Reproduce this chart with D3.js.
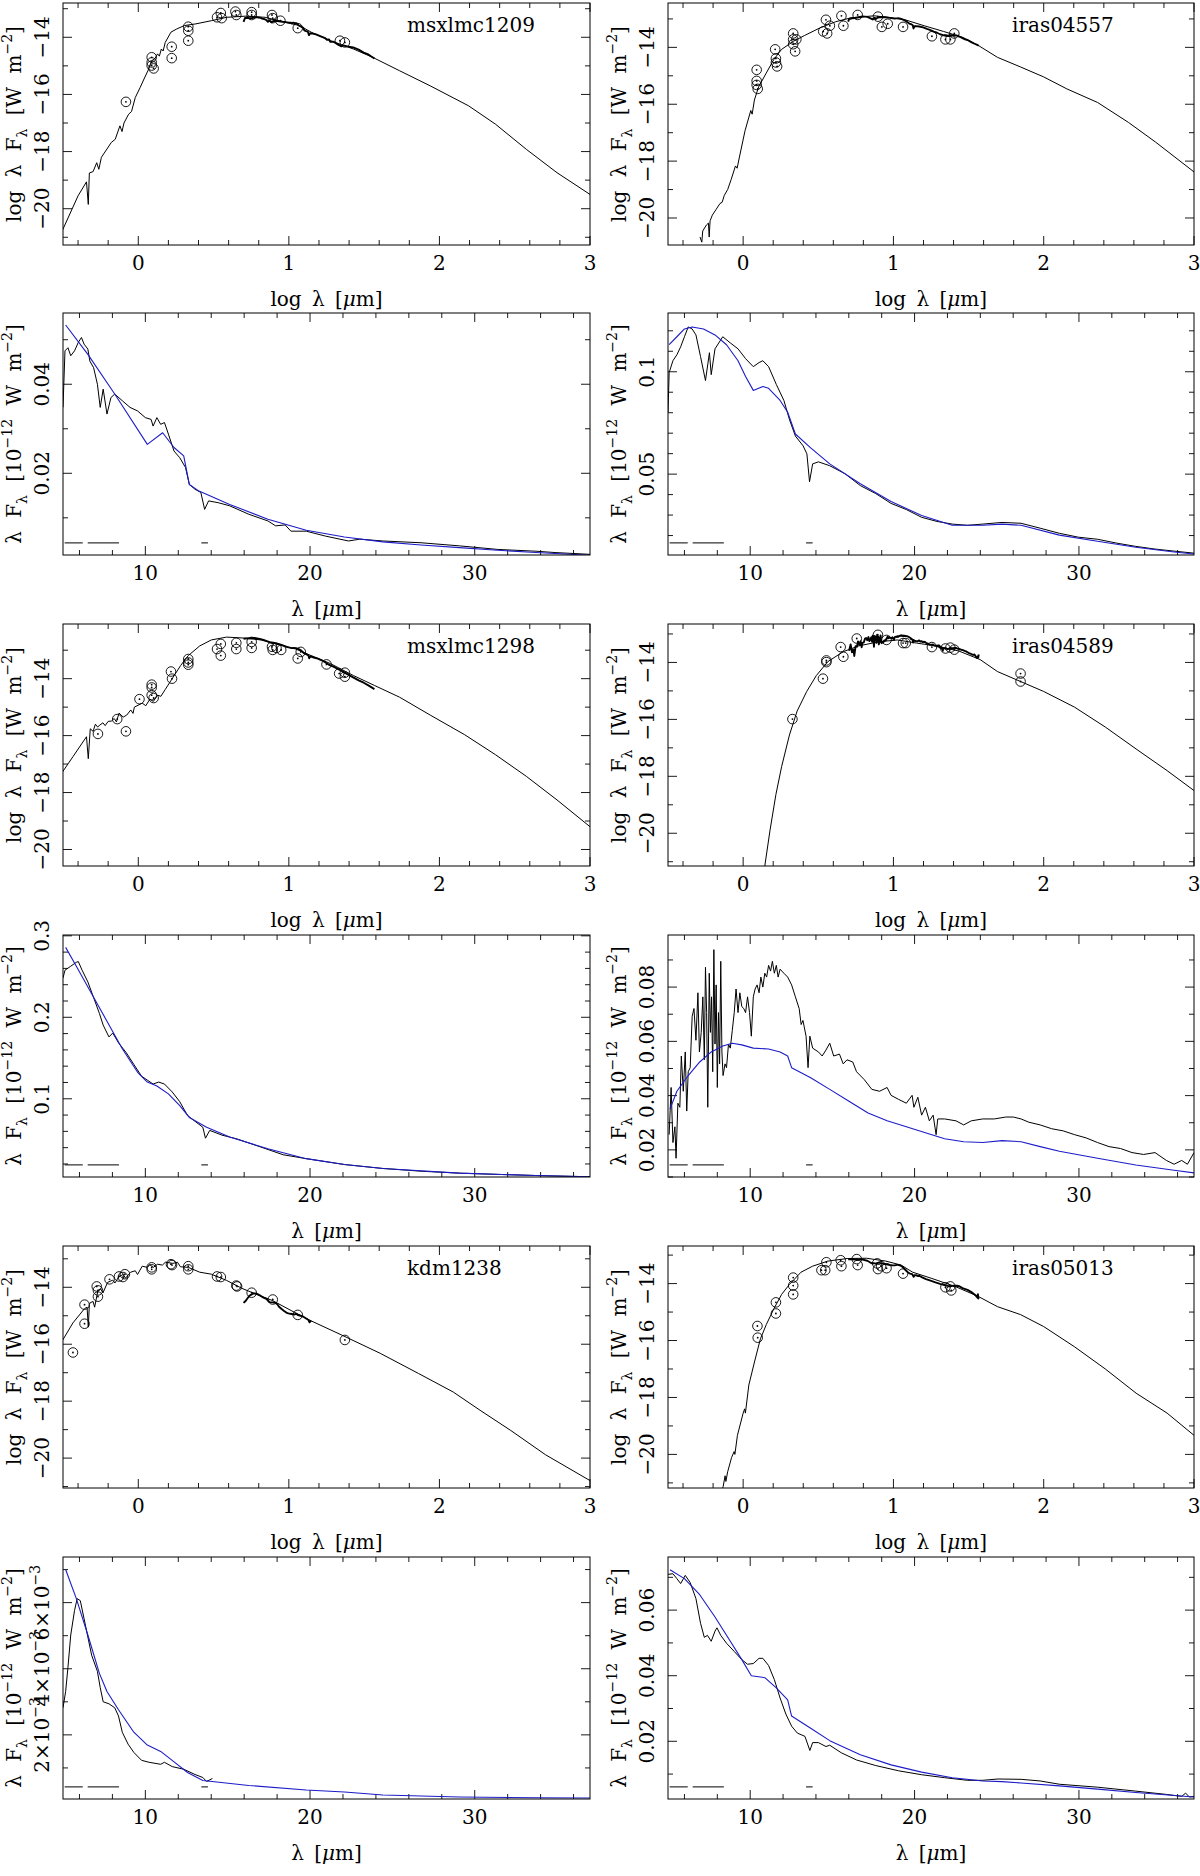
<!DOCTYPE html>
<html>
<head>
<meta charset="utf-8">
<script src="https://cdn.jsdelivr.net/npm/d3@7"></script>
<style>body{margin:0;background:#fff}</style>
</head>
<body>
<svg id="chart"></svg>
<script>
// star names, one SED panel + one IRS spectrum panel per star
let starNames = ["msxlmc1209", "iras04557", "msxlmc1298", "iras04589", "kdm1238", "iras05013"]

// SED: model curves [log lambda, log lambda F]
let msx1209Model = [[-0.523,-20.98],[-0.40,-19.55],[-0.344,-19.06],[-0.332,-19.85],[-0.325,-18.75],[-0.30,-18.70],[-0.276,-18.39],[-0.262,-18.62],[-0.245,-18.20],[-0.217,-17.98],[-0.179,-17.68],[-0.153,-17.57],[-0.122,-17.10],[-0.108,-17.30],[-0.095,-17.0],[-0.064,-16.69],[-0.045,-16.60],[-0.02,-16.11],[0.013,-15.75],[0.038,-15.46],[0.064,-15.17],[0.089,-14.82],[0.11,-14.75],[0.128,-14.58],[0.140,-14.66],[0.153,-14.41],[0.165,-14.48],[0.179,-14.18],[0.217,-13.82],[0.255,-13.71],[0.306,-13.59],[0.383,-13.53],[0.485,-13.42],[0.587,-13.30],[0.714,-13.26],[0.842,-13.30],[0.995,-13.50],[1.071,-13.59],[1.148,-13.82],[1.276,-14.12],[1.429,-14.41],[1.556,-14.70],[1.735,-15.17],[1.939,-15.70],[2.194,-16.40],[2.372,-17.04],[2.577,-17.92],[2.781,-18.74],[3.0,-19.50]]
let iras04557Model = [[-0.287,-20.67],[-0.275,-20.85],[-0.269,-20.46],[-0.245,-20.25],[-0.231,-20.18],[-0.226,-20.67],[-0.220,-20.10],[-0.205,-19.90],[-0.18,-19.70],[-0.154,-19.49],[-0.14,-19.45],[-0.125,-19.20],[-0.103,-19.0],[-0.08,-18.65],[-0.051,-18.17],[-0.04,-18.25],[-0.026,-17.89],[0.013,-16.92],[0.051,-16.22],[0.06,-16.35],[0.075,-15.85],[0.103,-15.39],[0.154,-14.90],[0.205,-14.42],[0.256,-14.07],[0.333,-13.79],[0.41,-13.58],[0.513,-13.31],[0.615,-13.10],[0.718,-12.96],[0.872,-12.89],[0.99,-12.96],[1.077,-13.03],[1.205,-13.24],[1.333,-13.44],[1.462,-13.65],[1.564,-13.93],[1.692,-14.35],[1.846,-14.69],[2.0,-15.04],[2.154,-15.46],[2.359,-15.94],[2.564,-16.64],[2.744,-17.33],[3.0,-18.38]]
let msx1298Model = [[-0.523,-17.43],[-0.434,-16.74],[-0.344,-16.04],[-0.332,-16.81],[-0.319,-15.76],[-0.30,-15.85],[-0.285,-15.60],[-0.27,-15.70],[-0.255,-15.63],[-0.235,-15.55],[-0.22,-15.65],[-0.20,-15.50],[-0.179,-15.49],[-0.16,-15.40],[-0.145,-15.52],[-0.128,-15.21],[-0.10,-15.35],[-0.077,-15.28],[-0.05,-15.10],[-0.035,-15.22],[-0.026,-15.0],[0.026,-14.86],[0.05,-14.95],[0.077,-14.72],[0.10,-14.80],[0.128,-14.58],[0.15,-14.62],[0.179,-14.38],[0.230,-13.96],[0.281,-13.54],[0.332,-13.19],[0.408,-12.85],[0.485,-12.64],[0.587,-12.54],[0.689,-12.57],[0.816,-12.64],[0.944,-12.82],[1.046,-12.96],[1.148,-13.19],[1.276,-13.47],[1.429,-13.89],[1.569,-14.24],[1.735,-14.65],[1.939,-15.28],[2.168,-15.97],[2.372,-16.67],[2.577,-17.43],[2.781,-18.26],[3.0,-19.2]]
let iras04589Model = [[0.13,-22.0],[0.146,-21.08],[0.179,-19.89],[0.218,-18.64],[0.256,-17.66],[0.308,-16.55],[0.359,-15.71],[0.423,-15.02],[0.487,-14.46],[0.564,-13.97],[0.667,-13.62],[0.769,-13.42],[0.897,-13.28],[1.026,-13.21],[1.154,-13.32],[1.282,-13.42],[1.436,-13.60],[1.577,-13.90],[1.692,-14.32],[1.846,-14.67],[2.0,-15.02],[2.205,-15.57],[2.41,-16.27],[2.615,-17.04],[2.821,-17.80],[3.0,-18.50]]
let kdm1238Model = [[-0.515,-15.97],[-0.434,-15.25],[-0.357,-14.75],[-0.340,-14.70],[-0.332,-15.40],[-0.325,-14.60],[-0.319,-14.54],[-0.30,-14.50],[-0.29,-14.70],[-0.268,-14.11],[-0.25,-14.05],[-0.235,-14.20],[-0.204,-13.83],[-0.17,-13.75],[-0.155,-13.85],[-0.128,-13.62],[-0.10,-13.55],[-0.085,-13.68],[-0.051,-13.47],[-0.02,-13.42],[-0.005,-13.55],[0.026,-13.26],[0.06,-13.30],[0.075,-13.20],[0.10,-13.30],[0.128,-13.19],[0.16,-13.22],[0.18,-13.12],[0.230,-13.16],[0.26,-13.12],[0.28,-13.28],[0.332,-13.30],[0.408,-13.47],[0.485,-13.54],[0.587,-13.76],[0.689,-14.04],[0.791,-14.26],[0.893,-14.47],[1.02,-14.83],[1.148,-15.18],[1.352,-15.68],[1.607,-16.32],[1.862,-17.03],[2.092,-17.68],[2.27,-18.32],[2.474,-19.03],[2.704,-19.88],[3.0,-20.79]]
let iras05013Model = [[-0.15,-21.5],[-0.133,-21.13],[-0.12,-20.75],[-0.115,-20.95],[-0.103,-20.61],[-0.077,-20.11],[-0.06,-19.90],[-0.055,-20.0],[-0.038,-19.33],[0.0,-18.55],[0.01,-18.40],[0.015,-18.55],[0.038,-17.56],[0.077,-16.72],[0.115,-15.94],[0.154,-15.44],[0.205,-14.88],[0.256,-14.38],[0.308,-14.03],[0.385,-13.60],[0.462,-13.39],[0.564,-13.21],[0.692,-13.12],[0.821,-13.11],[0.949,-13.21],[1.051,-13.35],[1.128,-13.60],[1.256,-13.82],[1.41,-14.10],[1.564,-14.45],[1.692,-14.81],[1.846,-15.09],[2.0,-15.51],[2.205,-16.22],[2.41,-17.0],[2.615,-17.85],[2.821,-18.55],[3.0,-19.33]]

// SED: photometry points
let msx1209Phot = [[-0.082,-16.26],[0.089,-14.70],[0.089,-14.88],[0.089,-14.99],[0.102,-15.09],[0.222,-14.33],[0.222,-14.73],[0.332,-13.63],[0.332,-13.77],[0.332,-14.12],[0.523,-13.30],[0.548,-13.15],[0.554,-13.33],[0.645,-13.10],[0.651,-13.22],[0.753,-13.12],[0.753,-13.22],[0.888,-13.22],[0.893,-13.33],[0.944,-13.42],[1.059,-13.68],[1.339,-14.12],[1.372,-14.18]]
let iras04557Phot = [[0.09,-14.79],[0.09,-15.18],[0.09,-15.32],[0.097,-15.46],[0.213,-14.07],[0.218,-14.39],[0.218,-14.53],[0.226,-14.67],[0.333,-13.51],[0.333,-13.72],[0.333,-13.89],[0.346,-14.14],[0.354,-13.72],[0.533,-13.44],[0.551,-13.03],[0.559,-13.51],[0.577,-13.24],[0.654,-12.89],[0.667,-13.24],[0.762,-12.86],[0.897,-12.92],[0.923,-13.28],[0.962,-13.17],[1.064,-13.28],[1.256,-13.61],[1.346,-13.72],[1.379,-13.72],[1.405,-13.51]]
let msx1298Phot = [[-0.268,-15.94],[-0.140,-15.42],[-0.082,-15.85],[0.008,-14.72],[0.089,-14.21],[0.089,-14.31],[0.089,-14.58],[0.102,-14.68],[0.217,-13.75],[0.224,-14.0],[0.332,-13.31],[0.332,-13.43],[0.332,-13.51],[0.523,-12.96],[0.548,-12.78],[0.548,-13.19],[0.651,-12.74],[0.651,-12.96],[0.753,-12.71],[0.753,-12.92],[0.888,-12.88],[0.893,-12.99],[0.918,-12.92],[0.949,-12.99],[1.059,-13.29],[1.079,-13.06],[1.25,-13.5],[1.334,-13.82],[1.372,-13.79],[1.372,-13.93]]
let iras04589Phot = [[0.328,-15.99],[0.531,-14.57],[0.554,-13.93],[0.554,-13.99],[0.649,-13.46],[0.667,-13.80],[0.756,-13.16],[0.897,-13.03],[0.954,-13.21],[1.064,-13.32],[1.082,-13.32],[1.256,-13.46],[1.346,-13.51],[1.379,-13.48],[1.405,-13.55],[1.846,-14.39],[1.846,-14.67]]
let kdm1238Phot = [[-0.434,-16.29],[-0.357,-14.61],[-0.357,-15.28],[-0.276,-13.97],[-0.268,-14.33],[-0.268,-14.11],[-0.191,-13.72],[-0.128,-13.62],[-0.102,-13.64],[-0.089,-13.54],[0.089,-13.30],[0.089,-13.37],[0.217,-13.19],[0.224,-13.22],[0.332,-13.26],[0.332,-13.37],[0.523,-13.62],[0.548,-13.64],[0.651,-13.94],[0.656,-13.97],[0.753,-14.19],[0.893,-14.43],[1.059,-14.97],[1.372,-15.85]]
let iras05013Phot = [[0.095,-15.49],[0.097,-15.90],[0.218,-14.66],[0.218,-15.05],[0.333,-13.79],[0.333,-14.07],[0.333,-14.38],[0.521,-13.53],[0.546,-13.53],[0.554,-13.25],[0.649,-13.18],[0.654,-13.39],[0.756,-13.14],[0.762,-13.35],[0.892,-13.29],[0.897,-13.49],[0.918,-13.39],[0.954,-13.46],[1.064,-13.65],[1.346,-14.13],[1.379,-14.10],[1.385,-14.24]]

// IRS spectra [lambda um, lambda F in 1e-12 W m-2] (black)
let msx1209Irs = [[5.0,0.0348],[5.12,0.0475],[5.3,0.0482],[5.47,0.0464],[5.7,0.0475],[5.93,0.0494],[6.12,0.0505],[6.28,0.049],[6.51,0.0479],[6.63,0.0452],[6.86,0.0437],[7.09,0.040],[7.26,0.0348],[7.44,0.0389],[7.67,0.0333],[7.91,0.037],[8.14,0.0378],[8.60,0.0363],[9.07,0.0348],[9.53,0.034],[10.0,0.0325],[10.35,0.0321],[10.47,0.0306],[10.70,0.0325],[10.93,0.031],[11.16,0.0314],[11.4,0.0288],[11.74,0.025],[12.09,0.0235],[12.44,0.0213],[12.67,0.0175],[13.02,0.0164],[13.37,0.0157],[13.6,0.0119],[13.84,0.0138],[14.42,0.0134],[15.12,0.0127],[16.28,0.0108],[17.44,0.0093],[17.91,0.0082],[18.49,0.0084],[18.84,0.0070],[19.77,0.0070],[20.93,0.0059],[22.33,0.0048],[23.02,0.0052],[24.42,0.0048],[26.74,0.0044],[29.07,0.0037],[31.4,0.0029],[33.72,0.0025],[34.88,0.0022],[37.0,0.0018]]
let iras04557Irs = [[5.0,0.0802],[5.07,0.0996],[5.3,0.1054],[5.54,0.1083],[5.77,0.1122],[6.0,0.1171],[6.23,0.1219],[6.47,0.1209],[6.7,0.118],[6.98,0.1074],[7.28,0.0957],[7.52,0.1093],[7.63,0.0986],[7.86,0.1112],[8.33,0.1171],[8.79,0.1141],[9.26,0.1112],[9.72,0.1064],[10.19,0.1025],[10.54,0.1045],[10.77,0.1054],[11.12,0.1025],[11.59,0.0938],[12.05,0.086],[12.4,0.0764],[12.75,0.0686],[13.22,0.0638],[13.45,0.0599],[13.61,0.0463],[13.8,0.055],[14.15,0.056],[14.84,0.0541],[15.77,0.0502],[16.7,0.0444],[17.64,0.0405],[18.57,0.0357],[19.5,0.0327],[20.43,0.0289],[21.36,0.0269],[22.29,0.0256],[23.22,0.025],[24.15,0.0256],[25.32,0.0264],[26.48,0.026],[27.64,0.0236],[28.81,0.0211],[29.97,0.0192],[31.13,0.0182],[32.3,0.0163],[33.46,0.0147],[34.63,0.0134],[35.79,0.0124],[37.0,0.0114]]
let msx1298Irs = [[5.0,0.2482],[5.12,0.2578],[5.47,0.2627],[5.81,0.2675],[5.93,0.2684],[6.16,0.2578],[6.51,0.2434],[6.86,0.2241],[7.21,0.2048],[7.44,0.1904],[7.79,0.1759],[8.02,0.1807],[8.37,0.1687],[8.84,0.1566],[9.3,0.1422],[9.77,0.1277],[10.12,0.1229],[10.47,0.1181],[10.81,0.1205],[11.16,0.1181],[11.63,0.1084],[12.09,0.0964],[12.56,0.0795],[13.02,0.0723],[13.49,0.0651],[13.65,0.0516],[13.91,0.0612],[14.65,0.0554],[15.58,0.0506],[16.98,0.041],[18.37,0.0313],[19.77,0.0265],[22.09,0.0193],[24.42,0.0145],[26.74,0.0111],[29.07,0.0087],[31.4,0.0072],[33.72,0.0058],[37.0,0.0043]]
let iras04589Irs = [[5.07,0.0256],[5.19,0.043],[5.3,0.0227],[5.42,0.0285],[5.49,0.0169],[5.6,0.0372],[5.72,0.0357],[5.81,0.0546],[5.93,0.0416],[6.05,0.0561],[6.14,0.0343],[6.23,0.0488],[6.35,0.0503],[6.47,0.0692],[6.58,0.0721],[6.7,0.0604],[6.82,0.0779],[6.91,0.0561],[7.02,0.0633],[7.12,0.0764],[7.21,0.0532],[7.28,0.0873],[7.35,0.0706],[7.42,0.0357],[7.51,0.0851],[7.58,0.0633],[7.65,0.0764],[7.72,0.0488],[7.79,0.0938],[7.86,0.059],[7.93,0.0808],[8.0,0.043],[8.07,0.0706],[8.14,0.0517],[8.21,0.0895],[8.28,0.0561],[8.35,0.0474],[8.47,0.0517],[8.56,0.0503],[8.68,0.059],[8.79,0.0575],[8.91,0.064],[9.03,0.0706],[9.14,0.0793],[9.26,0.0706],[9.37,0.0779],[9.49,0.0728],[9.61,0.0721],[9.72,0.0706],[9.84,0.0764],[9.96,0.0706],[10.07,0.0619],[10.19,0.0764],[10.3,0.0793],[10.42,0.0808],[10.54,0.0779],[10.65,0.0837],[10.77,0.08],[10.89,0.0851],[11.0,0.0837],[11.12,0.088],[11.24,0.0859],[11.35,0.0895],[11.47,0.0851],[11.59,0.088],[11.7,0.0837],[11.82,0.0866],[12.05,0.0851],[12.28,0.0837],[12.52,0.0808],[12.75,0.0764],[12.98,0.0721],[13.1,0.0662],[13.21,0.0677],[13.4,0.0619],[13.52,0.0503],[13.63,0.0619],[13.8,0.0575],[14.15,0.0561],[14.38,0.0546],[14.61,0.0568],[14.84,0.0593],[15.08,0.0546],[15.43,0.0553],[15.66,0.0517],[15.89,0.0532],[16.24,0.0524],[16.47,0.0488],[16.94,0.0459],[17.4,0.0423],[17.87,0.0416],[18.33,0.043],[18.57,0.0401],[19.03,0.0386],[19.5,0.0372],[19.85,0.0401],[19.96,0.0357],[20.2,0.0394],[20.43,0.0328],[20.66,0.0357],[20.9,0.0307],[21.13,0.0328],[21.31,0.0256],[21.41,0.0314],[21.83,0.0314],[22.52,0.0307],[22.99,0.0292],[23.45,0.0307],[24.15,0.0314],[24.85,0.0314],[25.55,0.0321],[26.01,0.0321],[26.48,0.0314],[26.95,0.0302],[27.64,0.0292],[28.34,0.0278],[29.04,0.027],[29.74,0.0256],[30.44,0.0244],[31.13,0.0227],[31.83,0.0212],[32.53,0.0205],[33.23,0.019],[33.93,0.0183],[34.63,0.019],[35.32,0.0161],[35.79,0.0147],[36.25,0.0161],[36.6,0.0147],[37.0,0.019]]
let kdm1238Irs = [[5.0,0.00282],[5.16,0.00331],[5.3,0.00404],[5.47,0.00502],[5.7,0.00576],[5.86,0.00612],[6.05,0.00606],[6.28,0.00551],[6.51,0.00496],[6.74,0.00441],[7.09,0.00392],[7.26,0.00343],[7.44,0.003],[7.79,0.00294],[8.14,0.00282],[8.37,0.00257],[8.6,0.00208],[8.95,0.00172],[9.3,0.00147],[9.77,0.00123],[10.23,0.00117],[10.93,0.00111],[11.16,0.00117],[11.63,0.00104],[12.33,0.00096],[13.02,0.0008],[13.49,0.00071],[13.72,0.00059],[14.07,0.00068]]
let iras05013Irs = [[5.0,0.0709],[5.3,0.0711],[5.54,0.0696],[5.77,0.0681],[6.05,0.0706],[6.35,0.0684],[6.7,0.0635],[6.98,0.056],[7.21,0.0517],[7.4,0.0523],[7.63,0.0505],[7.86,0.0536],[7.98,0.0546],[8.21,0.0523],[8.56,0.0499],[9.03,0.0474],[9.49,0.0449],[9.84,0.0435],[10.19,0.0437],[10.54,0.0453],[10.77,0.0453],[11.12,0.0431],[11.47,0.0388],[11.82,0.0332],[12.17,0.0283],[12.52,0.0246],[12.87,0.0225],[13.33,0.0215],[13.63,0.0172],[13.8,0.0196],[14.15,0.0196],[14.61,0.0184],[14.84,0.0188],[15.54,0.0165],[16.47,0.0143],[17.64,0.0126],[19.03,0.011],[20.43,0.0098],[21.83,0.0089],[23.22,0.0081],[24.15,0.0081],[25.08,0.0085],[26.48,0.0084],[27.64,0.0079],[28.81,0.0069],[31.13,0.006],[33.46,0.0048],[35.32,0.0038],[36.25,0.0032],[36.49,0.0042],[36.72,0.003],[37.0,0.0032]]

// model fits over the IRS range (blue)
let msx1209Fit = [[5.16,0.0533],[6.51,0.0467],[8.14,0.0378],[10.12,0.0265],[11.05,0.0291],[11.74,0.0258],[12.33,0.0239],[12.67,0.0175],[13.26,0.016],[15.12,0.013],[17.44,0.0097],[19.77,0.0072],[22.09,0.0057],[24.42,0.0046],[26.74,0.0039],[29.07,0.0033],[31.4,0.0027],[33.72,0.0022],[37.0,0.0016]]
let iras04557Fit = [[5.07,0.1132],[5.54,0.1171],[6.0,0.1209],[6.47,0.1219],[7.16,0.1209],[7.86,0.118],[8.56,0.1132],[9.26,0.1054],[9.72,0.0977],[10.19,0.0909],[10.77,0.0928],[11.12,0.0919],[11.82,0.086],[12.28,0.0802],[12.75,0.0696],[13.68,0.0628],[14.84,0.055],[16.7,0.0453],[18.57,0.0366],[20.43,0.0298],[22.29,0.025],[24.15,0.025],[25.32,0.0256],[26.48,0.025],[28.81,0.0202],[31.13,0.0172],[33.46,0.0143],[35.79,0.012],[37.0,0.011]]
let msx1298Fit = [[5.16,0.2858],[5.81,0.2627],[6.74,0.2289],[7.67,0.1952],[8.6,0.1614],[9.53,0.1325],[10.12,0.1205],[10.7,0.1157],[11.4,0.106],[12.09,0.0916],[12.67,0.0771],[13.72,0.0651],[15.12,0.053],[17.44,0.0386],[19.77,0.0265],[22.09,0.0193],[24.42,0.0145],[29.07,0.0087],[33.72,0.0058],[37.0,0.0043]]
let iras04589Fit = [[5.12,0.035],[5.54,0.0416],[6.23,0.0474],[6.93,0.0524],[7.63,0.0561],[8.33,0.0583],[8.91,0.0593],[9.49,0.0587],[10.19,0.0575],[11.12,0.0572],[11.82,0.0561],[12.28,0.0546],[12.52,0.0503],[13.68,0.0466],[14.84,0.0423],[16.01,0.0379],[17.17,0.0336],[18.33,0.0307],[19.5,0.0285],[20.66,0.0263],[21.83,0.0241],[22.99,0.023],[24.15,0.0227],[25.32,0.0234],[26.48,0.023],[27.64,0.0212],[28.81,0.0195],[31.13,0.0169],[33.46,0.0144],[35.79,0.0125],[37.0,0.0115]]
let kdm1238Fit = [[5.16,0.0070],[5.81,0.00612],[6.51,0.00502],[7.21,0.00386],[7.67,0.00331],[8.37,0.00276],[9.3,0.00208],[10.12,0.00169],[10.93,0.0015],[11.63,0.00123],[12.56,0.00086],[13.49,0.00062],[14.19,0.00058],[16.28,0.00047],[19.77,0.00033],[22.09,0.00027],[24.42,0.00018],[29.07,0.00012],[33.72,0.0001],[37.0,0.00009]]
let iras05013Fit = [[5.12,0.0723],[6.0,0.0696],[6.93,0.0647],[7.86,0.0579],[8.79,0.0505],[9.49,0.0449],[10.07,0.04],[10.89,0.0394],[11.59,0.0363],[12.28,0.0326],[12.52,0.0277],[13.68,0.024],[14.84,0.0202],[16.7,0.0159],[18.57,0.0128],[20.43,0.0106],[22.29,0.0089],[24.15,0.0079],[25.32,0.0077],[26.48,0.0073],[28.81,0.0064],[31.13,0.0054],[33.46,0.0044],[37.0,0.003]]

// IRS module coverage marks [lambda start, lambda end]
let moduleRanges = [[5.1, 6.2], [6.5, 8.4], [13.4, 13.8]]

// axis ranges and tick steps
let sedXRange = [-0.5, 3]
let sedYRange = [[-21.27, -12.8], [-20.95, -12.44], [-20.58, -12.08], [-21.15, -12.65], [-21.05, -12.55], [-21.18, -12.68]]
let specXRange = [5, 37]
let specYRange = [[0.00165, 0.056], [0.0105, 0.1287], [0.004, 0.301], [0.010, 0.0992], [0.00006, 0.00738], [0.0024, 0.0762]]
let specYMajor = [0.02, 0.05, 0.1, 0.02, 0.002, 0.02]
let specYMinor = [0.01, 0.01, 0.02, 0.01, 0.001, 0.01]

let sedModels = [msx1209Model, iras04557Model, msx1298Model, iras04589Model, kdm1238Model, iras05013Model]
let sedPhot = [msx1209Phot, iras04557Phot, msx1298Phot, iras04589Phot, kdm1238Phot, iras05013Phot]
let irsSpectra = [msx1209Irs, iras04557Irs, msx1298Irs, iras04589Irs, kdm1238Irs, iras05013Irs]
let irsFits = [msx1209Fit, iras04557Fit, msx1298Fit, iras04589Fit, kdm1238Fit, iras05013Fit]

let canvas = d3.select("#chart")
    .attr("width", 1200)
    .attr("height", 1876)
    .style("font-family", "'DejaVu Serif', serif")

canvas.append("rect").attr("width", 1200).attr("height", 1876).attr("fill", "#fff")

let colLeft = [63, 668]
let colWidth = [527, 526]
let rowTop = [3, 313, 624, 935, 1246, 1557]
let panelH = 242
let fontSize = 20
let blue = "#1c1cc8"

// steps through [lo, hi] at multiples of step
let tickValues = (lo, hi, step) => {
    let a = Math.ceil(lo / step - 1e-6), b = Math.floor(hi / step + 1e-6)
    return d3.range(a, b + 1).map((i) => +(i * step).toFixed(10))
}
let isMultiple = (v, step) => Math.abs(v / step - Math.round(v / step)) < 1e-6

// writes text with sub/superscripts: parts are [string, kind]
let richText = (sel, parts, size) => {
    let shift = 0
    parts.forEach(([str, kind]) => {
        let target = kind === "sub" ? 6 : kind === "sup" ? -9 : 0
        let t = sel.append("tspan")
            .attr("dy", target - shift)
            .attr("font-size", kind === "sub" || kind === "sup" ? size * 0.7 : size)
            .text(str)
        if (kind === "it") t.attr("font-style", "italic")
        shift = target
    })
}

let drawPanel = (opt) => {
    let x0 = colLeft[opt.col], w = colWidth[opt.col], y0 = rowTop[opt.row]
    let xScale = d3.scaleLinear().domain(opt.xDomain).range([x0, x0 + w])
    let yScale = d3.scaleLinear().domain(opt.yDomain).range([y0 + panelH, y0])

    let g = canvas.append("g")
    let clipId = "clip" + opt.col + "_" + opt.row
    g.append("clipPath").attr("id", clipId)
        .append("rect").attr("x", x0).attr("y", y0).attr("width", w).attr("height", panelH)

    // ticks on all four sides, pointing in
    let xt = tickValues(opt.xDomain[0], opt.xDomain[1], opt.xMinor)
    let yt = tickValues(opt.yDomain[0], opt.yDomain[1], opt.yMinor)
    let tg = g.append("g").attr("stroke", "#000").attr("stroke-width", 0.9)
    xt.forEach((v) => {
        let len = isMultiple(v, opt.xMajor) ? 9 : 5
        let px = xScale(v)
        tg.append("line").attr("x1", px).attr("x2", px).attr("y1", y0 + panelH).attr("y2", y0 + panelH - len)
        tg.append("line").attr("x1", px).attr("x2", px).attr("y1", y0).attr("y2", y0 + len)
    })
    yt.forEach((v) => {
        let len = isMultiple(v, opt.yMajor) ? 9 : 5
        let py = yScale(v)
        tg.append("line").attr("x1", x0).attr("x2", x0 + len).attr("y1", py).attr("y2", py)
        tg.append("line").attr("x1", x0 + w).attr("x2", x0 + w - len).attr("y1", py).attr("y2", py)
    })

    // tick labels
    xt.filter((v) => isMultiple(v, opt.xMajor)).forEach((v) => {
        g.append("text")
            .attr("x", xScale(v)).attr("y", y0 + panelH + 25)
            .attr("text-anchor", "middle").attr("font-size", fontSize)
            .text(opt.xFormat(v))
    })
    yt.filter((v) => isMultiple(v, opt.yMajor)).forEach((v) => {
        let t = g.append("text")
            .attr("transform", "translate(" + (x0 - 14) + "," + yScale(v) + ") rotate(-90)")
            .attr("text-anchor", "middle").attr("font-size", fontSize)
        richText(t, opt.yFormat(v), fontSize)
    })

    // axis titles
    let xTitle = g.append("text")
        .attr("x", x0 + w / 2).attr("y", y0 + panelH + 61)
        .attr("text-anchor", "middle").attr("font-size", fontSize)
        .attr("word-spacing", 4)
    richText(xTitle, opt.xTitle, fontSize)
    let yTitle = g.append("text")
        .attr("transform", "translate(" + (x0 - 42) + "," + (y0 + panelH / 2) + ") rotate(-90)")
        .attr("text-anchor", "middle").attr("font-size", fontSize)
        .attr("word-spacing", 7)
    richText(yTitle, opt.yTitle, fontSize)

    let plot = g.append("g").attr("clip-path", "url(#" + clipId + ")")
    let line = d3.line().x((d) => xScale(d[0])).y((d) => yScale(d[1]))

    opt.lines.forEach((ln) => {
        plot.append("path")
            .datum(ln.data)
            .attr("d", line)
            .attr("fill", "none")
            .attr("stroke", ln.color)
            .attr("stroke-width", ln.width)
            .attr("stroke-linejoin", "round")
    })

    if (opt.points) {
        let pts = plot.selectAll(".phot")
            .data(opt.points)
            .enter()
            .append("g")
            .attr("transform", (d) => "translate(" + xScale(d[0]) + "," + yScale(d[1]) + ")")
        pts.append("circle").attr("r", 4.8).attr("fill", "none").attr("stroke", "#000").attr("stroke-width", 0.9)
        pts.append("circle").attr("r", 0.9).attr("fill", "#000")
    }

    if (opt.modules) {
        let yLevel = opt.yDomain[0] + 0.05 * (opt.yDomain[1] - opt.yDomain[0])
        plot.selectAll(".module")
            .data(opt.modules)
            .enter()
            .append("line")
            .attr("x1", (d) => xScale(d[0]))
            .attr("x2", (d) => xScale(d[1]))
            .attr("y1", yScale(yLevel))
            .attr("y2", yScale(yLevel))
            .attr("stroke", "#000")
            .attr("stroke-width", 1)
    }

    if (opt.name) {
        g.append("text")
            .attr("x", x0 + 344).attr("y", y0 + 29)
            .attr("font-size", fontSize)
            .text(opt.name)
    }

    g.append("rect")
        .attr("x", x0).attr("y", y0).attr("width", w).attr("height", panelH)
        .attr("fill", "none").attr("stroke", "#000").attr("stroke-width", 1)
}

let minus = (v) => (v < 0 ? "\u2212" : "") + Math.abs(v)
let sedYTitle = [["log \u03bb F", null], ["\u03bb", "sub"], [" [W m", null], ["\u22122", "sup"], ["]", null]]
let specYTitle = [["\u03bb F", null], ["\u03bb", "sub"], [" [10", null], ["\u221212", "sup"], [" W m", null], ["\u22122", "sup"], ["]", null]]
let sedXTitle = [["log \u03bb [", null], ["\u03bc", "it"], ["m]", null]]
let specXTitle = [["\u03bb [", null], ["\u03bc", "it"], ["m]", null]]

starNames.forEach((name, i) => {
    let col = i % 2
    let row = Math.floor(i / 2) * 2
    let irsLog = irsSpectra[i].map((d) => [Math.log10(d[0]), Math.log10(d[1]) - 12])

    drawPanel({
        col: col, row: row,
        xDomain: sedXRange, yDomain: sedYRange[i].slice(),
        xMajor: 1, xMinor: 0.2, yMajor: 2, yMinor: 1,
        xFormat: (v) => minus(v),
        yFormat: (v) => [[minus(v), null]],
        xTitle: sedXTitle, yTitle: sedYTitle,
        lines: [
            { data: sedModels[i], color: "#000", width: 1 },
            { data: irsLog, color: "#000", width: 1.9 }
        ],
        points: sedPhot[i],
        name: name
    })

    let major = specYMajor[i]
    let yFmt = (v) => [[d3.format("~g")(+v.toFixed(6)), null]]
    if (major < 0.01) {
        yFmt = (v) => [[Math.round(v * 1000) + "\u00d710", null], ["\u22123", "sup"]]
    }
    drawPanel({
        col: col, row: row + 1,
        xDomain: specXRange, yDomain: specYRange[i].slice(),
        xMajor: 10, xMinor: 2, yMajor: major, yMinor: specYMinor[i],
        xFormat: (v) => String(v),
        yFormat: yFmt,
        xTitle: specXTitle, yTitle: specYTitle,
        lines: [
            { data: irsSpectra[i], color: "#000", width: 1 },
            { data: irsFits[i], color: blue, width: 1.1 }
        ],
        modules: moduleRanges
    })
})
</script>
</body>
</html>
